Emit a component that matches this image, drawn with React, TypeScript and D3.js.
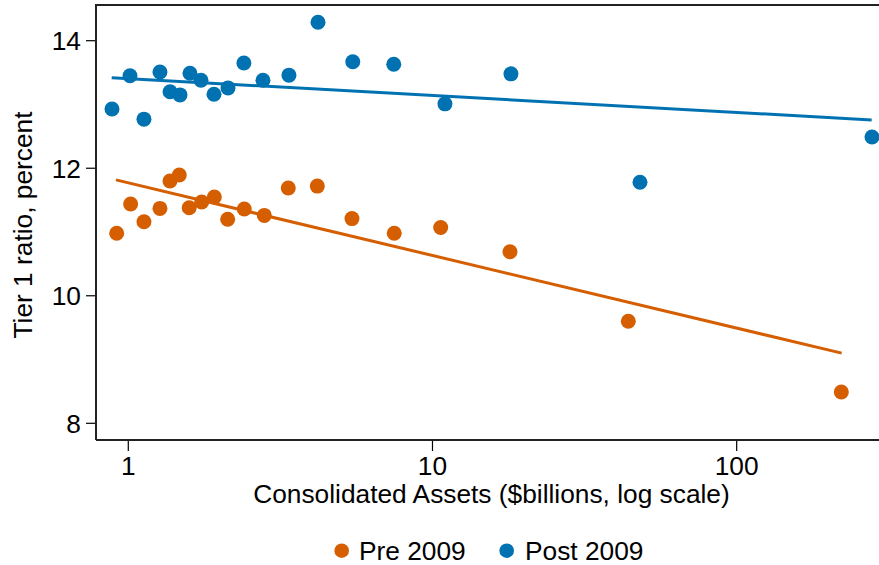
import React from "react";
import * as d3 from "d3";

const preAssets = [0.916, 1.018, 1.126, 1.271, 1.371, 1.471, 1.586, 1.743, 1.918, 2.122, 2.406, 2.8, 3.357, 4.182, 5.437, 7.487, 10.64, 17.98, 44.03, 220.8];
const preTier1 = [10.98, 11.44, 11.16, 11.37, 11.8, 11.895, 11.38, 11.47, 11.55, 11.2, 11.36, 11.26, 11.69, 11.72, 11.21, 10.98, 11.07, 10.69, 9.6, 8.49];
const postAssets = [0.884, 1.013, 1.126, 1.271, 1.372, 1.479, 1.595, 1.734, 1.913, 2.127, 2.399, 2.772, 3.374, 4.204, 5.47, 7.46, 10.99, 18.11, 48.1, 278.5];
const postTier1 = [12.93, 13.45, 12.77, 13.51, 13.2, 13.15, 13.49, 13.38, 13.16, 13.26, 13.65, 13.38, 13.46, 14.29, 13.67, 13.63, 13.01, 13.48, 11.78, 12.49];
const preFitX = [0.911, 221.4];
const preFitY = [11.817, 9.1];
const postFitX = [0.882, 277.8];
const postFitY = [13.42, 12.757];
const xTicks = [1, 10, 100];
const yTicks = [8, 10, 12, 14];
const seriesNames = ["Pre 2009", "Post 2009"];

const W = 879;
const H = 565;
const left = 96, right = 880, top = 5, bottom = 440;
const ORANGE = "#D55E00";
const BLUE = "#0072B2";
const FONT = "'Liberation Sans', Arial, Helvetica, sans-serif";
const FS = 26.3;

export default function App() {
  const x = d3.scaleLog().domain([0.7832, 295.9]).range([left, right]);
  const y = d3.scaleLinear().domain([7.738, 14.56]).range([bottom, top]);
  const line = d3.line<[number, number]>().x((d) => x(d[0])).y((d) => y(d[1]));

  const series = [
    { name: seriesNames[0], color: ORANGE, xs: preAssets, ys: preTier1, fx: preFitX, fy: preFitY },
    { name: seriesNames[1], color: BLUE, xs: postAssets, ys: postTier1, fx: postFitX, fy: postFitY },
  ];

  const legendPos = [
    { cx: 341.7, tx: 359 },
    { cx: 506.7, tx: 525 },
  ];

  return (
    <div style={{ position: "absolute", left: 0, top: 0 }}>
      <svg width={W} height={H} style={{ display: "block", background: "#fff" }} fontFamily={FONT}>
        <rect x={0} y={0} width={W} height={H} fill="#fff" />
        {yTicks.map((t) => (
          <g key={"y" + t}>
            <line x1={left - 10} x2={left} y1={y(t)} y2={y(t)} stroke="#000" strokeWidth={1.2} />
            <text x={left - 15} y={y(t)} dy="0.36em" textAnchor="end" fontSize={FS} fill="#000">
              {t}
            </text>
          </g>
        ))}
        {xTicks.map((t) => (
          <g key={"x" + t}>
            <line x1={x(t)} x2={x(t)} y1={bottom} y2={bottom + 11} stroke="#000" strokeWidth={1.2} />
            <text x={x(t)} y={475} textAnchor="middle" fontSize={FS} fill="#000">
              {t}
            </text>
          </g>
        ))}
        {series.map((s) => (
          <path
            key={"fit" + s.name}
            d={line(s.fx.map((v, i) => [v, s.fy[i]] as [number, number])) || ""}
            stroke={s.color}
            strokeWidth={3}
            fill="none"
          />
        ))}
        {series.map((s) =>
          s.xs.map((v, i) => (
            <circle key={s.name + i} cx={x(v)} cy={y(s.ys[i])} r={7.5} fill={s.color} />
          ))
        )}
        <path
          d={`M${left},${bottom}H${right}M${left},${bottom}V${top}H${right}`}
          stroke="#222"
          strokeWidth={2}
          fill="none"
        />
        <text x={491.5} y={503} textAnchor="middle" fontSize={FS} fill="#000">
          Consolidated Assets ($billions, log scale)
        </text>
        <text
          transform={`translate(32,225) rotate(-90)`}
          textAnchor="middle"
          fontSize={FS}
          fill="#000"
        >
          Tier 1 ratio, percent
        </text>
        {series.map((s, i) => (
          <g key={"leg" + s.name}>
            <circle cx={legendPos[i].cx} cy={550.7} r={7.3} fill={s.color} />
            <text x={legendPos[i].tx} y={559.5} fontSize={FS} fill="#000">
              {s.name}
            </text>
          </g>
        ))}
      </svg>
    </div>
  );
}
